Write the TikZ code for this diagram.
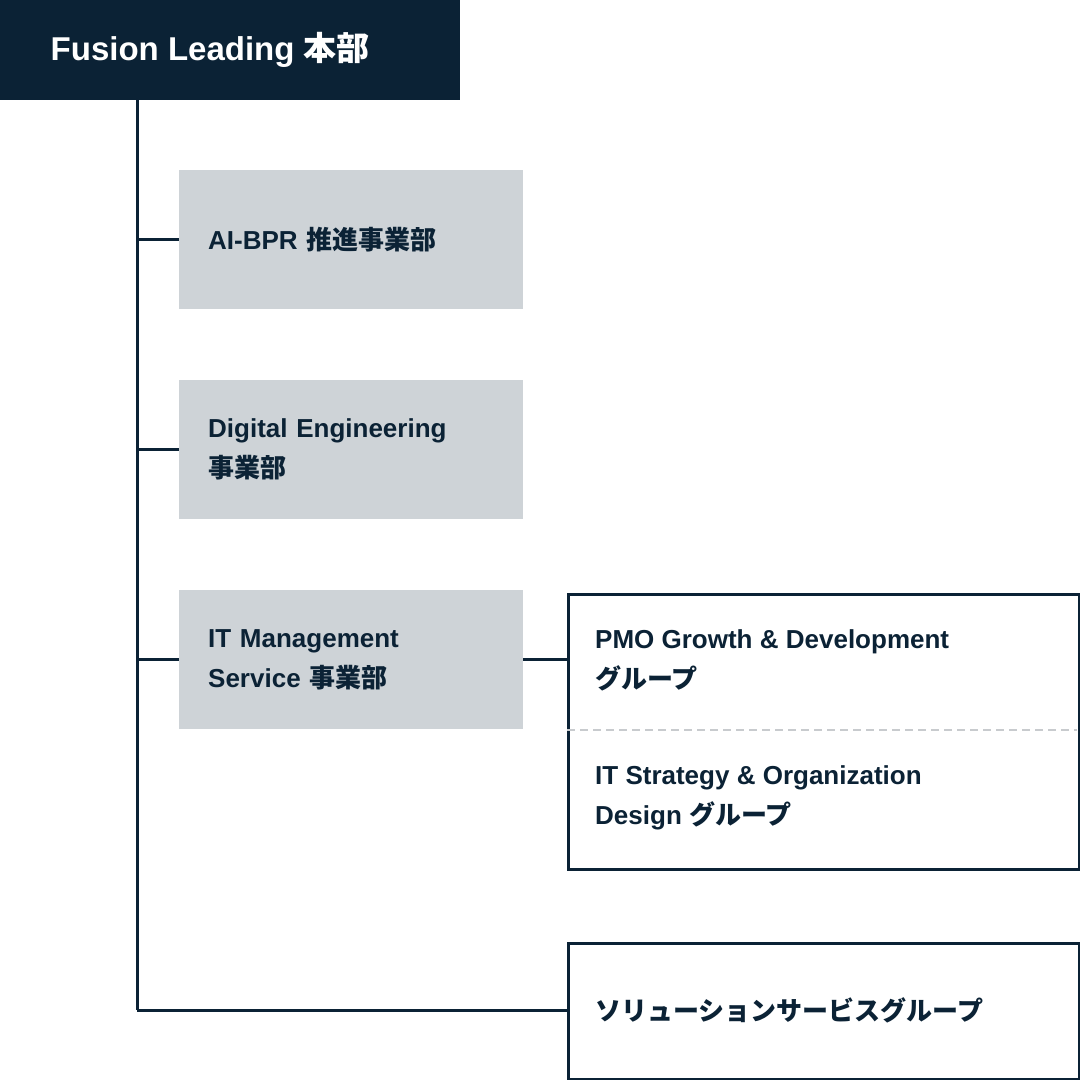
\documentclass[tikz,border=0pt]{standalone}
\usepackage{fontspec}
\setmainfont{Liberation Sans}
\newfontfamily\jpfont{Noto Sans CJK JP}
\newcommand{\jp}[1]{{\jpfont\bfseries #1}}
\definecolor{navy}{HTML}{0B2235}
\definecolor{panel}{HTML}{CED3D7}
\definecolor{divider}{HTML}{C8CBCE}
\begin{document}
\begin{tikzpicture}[x=1pt, y=-1pt,
    head/.style={fill=navy, text=white, anchor=north west, inner sep=0pt,
                 minimum width=460pt, minimum height=100pt, font=\bfseries\fontsize{33}{40}\selectfont},
    unit/.style={fill=panel, text=navy, anchor=north west, inner xsep=29pt, inner ysep=0pt,
                 text width=286pt, minimum height=139pt, align=left, font=\bfseries\fontsize{26}{40}\selectfont},
    group/.style={draw=navy, line width=3pt, fill=white, anchor=north west, inner sep=0pt,
                  minimum width=511pt},
    label/.style={text=navy, anchor=west, inner sep=0pt, align=left, font=\bfseries\fontsize{26}{40}\selectfont},
    link/.style={draw=navy, line width=3pt},
  ]
    \useasboundingbox (0,0) rectangle (1080,1080);
    \node[head] (hq) at (0,0) {\hspace*{-40pt}Fusion Leading \jp{本部}};
    \node[unit] (aibpr) at (179,170) {AI-BPR \jp{推進事業部}};
    \node[unit] (de) at (179,380) {Digital Engineering\\\jp{事業部}};
    \node[unit] (itms) at (179,590) {IT Management\\Service \jp{事業部}};
    % group box with two teams
    \node[group, minimum height=275pt] (grp) at (567,593) {};
    \coordinate (dl) at (567,730);
    \coordinate (dr) at (1077,730);
    \draw[divider, line width=2.5pt, dash pattern=on 8pt off 5pt] (dl) -- (dr);
    \node[label] (pmo) at (595,660) {PMO Growth \& Development\\\jp{グループ}};
    \node[label] (itso) at (595,798) {IT Strategy \& Organization\\Design \jp{グループ}};
    \node[group, minimum height=136pt] (sol) at (567,942) {};
    \node[label] (solt) at (595,1010) {\jp{ソリューションサービスグループ}};
    % connectors
    \coordinate (top) at (137,100);
    \coordinate (bot) at (137,1010);
    \draw[link] (top) -- (bot);
    \foreach \n in {aibpr, de, itms}
      \draw[link] (\n.west -| top) -- (\n.west);
    \draw[link] (bot) -- (bot -| sol.west);
    \draw[link] (itms.east) -- (itms.east -| grp.west);
\end{tikzpicture}
\end{document}
